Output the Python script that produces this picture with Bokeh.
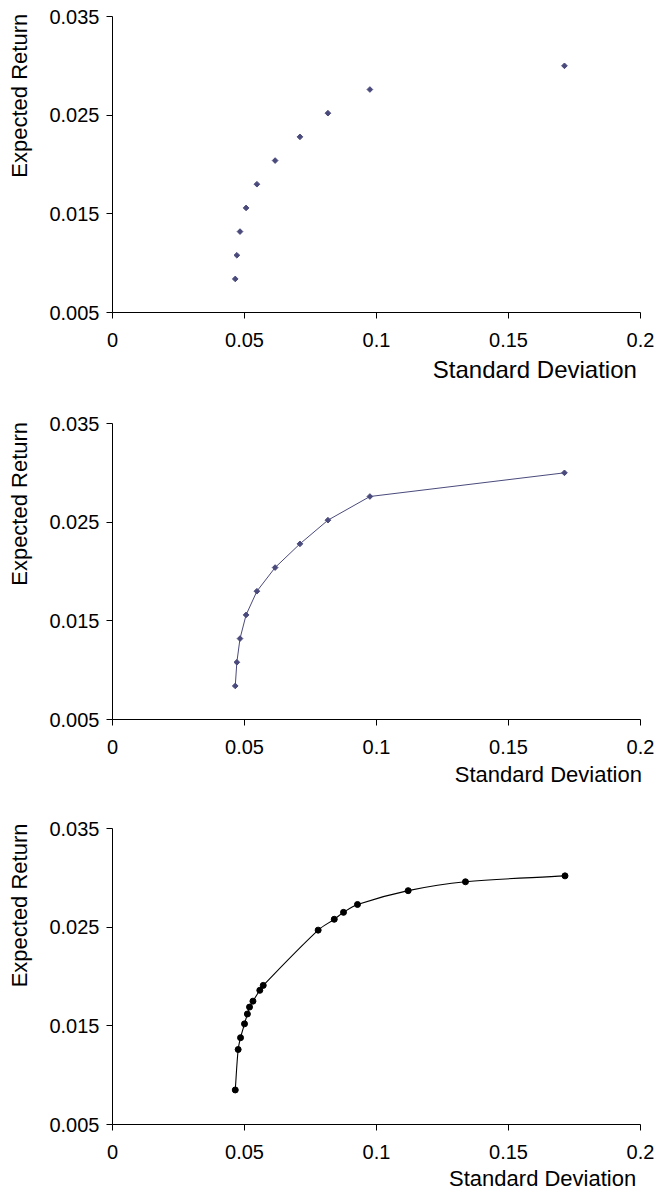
import math
from bokeh.plotting import figure
from bokeh.layouts import column
from bokeh.models import FixedTicker, Title
from bokeh.embed import file_html
from bokeh.resources import INLINE

# Data: efficient-frontier portfolios (standard deviation, expected return)
sd_a = [0.0465, 0.0471, 0.0483, 0.0506, 0.0547, 0.0616, 0.0710, 0.0816, 0.0975, 0.1712]
ret_a = [0.0084, 0.0108, 0.0132, 0.0156, 0.0180, 0.0204, 0.0228, 0.0252, 0.0276, 0.0300]

sd_b = [0.0465, 0.0476, 0.0485, 0.0500, 0.0511, 0.0519, 0.0532, 0.0558, 0.0571,
        0.0779, 0.0840, 0.0875, 0.0928, 0.1120, 0.1337, 0.1714]
ret_b = [0.0085, 0.0126, 0.0138, 0.0152, 0.0162, 0.0169, 0.0175, 0.0186, 0.0191,
         0.0247, 0.0258, 0.0265, 0.0273, 0.0287, 0.0296, 0.0302]

x_ticks = [0, 0.05, 0.1, 0.15, 0.2]
x_tick_labels = ["0", "0.05", "0.1", "0.15", "0.2"]
y_ticks = [0.005, 0.015, 0.025, 0.035]
y_tick_labels = ["0.005", "0.015", "0.025", "0.035"]
x_title = "Standard Deviation"
y_title = "Expected Return"

FONT = "Liberation Sans"
PURPLE = "#4a4a7c"
FW, FH = 528, 296
X_RANGE = (0, 0.2)
Y_RANGE = (0.005, 0.035)


def make_fig(border_top, border_bottom, xlabel_size, xlabel_offset, xlabel_standoff, ylabel_offset):
    p = figure(frame_width=FW, frame_height=FH, output_backend="svg", toolbar_location=None,
               x_range=X_RANGE, y_range=Y_RANGE,
               min_border_left=112, min_border_right=18,
               min_border_top=border_top, min_border_bottom=border_bottom)
    p.grid.visible = False
    p.outline_line_color = None
    p.background_fill_color = "white"
    p.border_fill_color = "white"
    for ax in (p.xaxis[0], p.yaxis[0]):
        ax.axis_line_color = "black"
        ax.axis_line_width = 1
        ax.major_tick_line_color = "black"
        ax.major_tick_out = 6
        ax.major_tick_in = 0
        ax.minor_tick_line_color = None
        ax.major_label_text_font = FONT
        ax.major_label_text_font_size = "20px"
        ax.major_label_text_color = "black"
    p.xaxis[0].ticker = FixedTicker(ticks=x_ticks)
    p.xaxis[0].major_label_overrides = {t: l for t, l in zip(x_ticks, x_tick_labels)}
    p.xaxis[0].major_label_standoff = 14
    p.yaxis[0].ticker = FixedTicker(ticks=y_ticks)
    p.yaxis[0].major_label_overrides = {t: l for t, l in zip(y_ticks, y_tick_labels)}
    p.yaxis[0].major_label_standoff = 7

    p.add_layout(Title(text=x_title, align="right", text_font=FONT,
                       text_font_size=xlabel_size, text_font_style="normal",
                       text_color="black", offset=xlabel_offset, standoff=xlabel_standoff), "below")
    # thin spacer between the y axis labels and the y axis title
    p.add_layout(Title(text=" ", text_font=FONT, text_font_size="1px",
                       text_font_style="normal", standoff=12), "left")
    p.add_layout(Title(text=y_title, align="right", text_font=FONT,
                       text_font_size="22px", text_font_style="normal",
                       text_color="black", offset=ylabel_offset, standoff=0), "left")
    return p


def smooth_segments(xs, ys):
    """Bezier control points for a smoothed line through the data (chord-length
    tangents measured in screen space, like a spreadsheet's 'smoothed line')."""
    kx = FW / (X_RANGE[1] - X_RANGE[0])
    ky = FH / (Y_RANGE[1] - Y_RANGE[0])
    n = len(xs)
    d = [math.hypot((xs[i + 1] - xs[i]) * kx, (ys[i + 1] - ys[i]) * ky) for i in range(n - 1)]
    tx, ty = [], []
    for i in range(n):
        if i == 0:
            a, b, L = 0, 1, d[0]
        elif i == n - 1:
            a, b, L = n - 2, n - 1, d[-1]
        else:
            a, b, L = i - 1, i + 1, d[i - 1] + d[i]
        tx.append((xs[b] - xs[a]) / L)
        ty.append((ys[b] - ys[a]) / L)
    seg = dict(x0=[], y0=[], x1=[], y1=[], cx0=[], cy0=[], cx1=[], cy1=[])
    for i in range(n - 1):
        seg["x0"].append(xs[i]); seg["y0"].append(ys[i])
        seg["x1"].append(xs[i + 1]); seg["y1"].append(ys[i + 1])
        seg["cx0"].append(xs[i] + tx[i] * d[i] / 3); seg["cy0"].append(ys[i] + ty[i] * d[i] / 3)
        seg["cx1"].append(xs[i + 1] - tx[i + 1] * d[i] / 3); seg["cy1"].append(ys[i + 1] - ty[i + 1] * d[i] / 3)
    return seg


p1 = make_fig(16, 80, "24px", 3.6, 8.6, -2.7)
p1.scatter(sd_a, ret_a, marker="square", size=4, angle=math.pi / 4, color=PURPLE)

p2 = make_fig(31, 73, "22px", -1.4, 8.2, -1.6)
p2.line(sd_a, ret_a, line_color=PURPLE, line_width=1)
p2.scatter(sd_a, ret_a, marker="square", size=4, angle=math.pi / 4, color=PURPLE)

p3 = make_fig(36, 71, "22px", 4.3, 5, -5)
p3.bezier(line_color="black", line_width=1.1, **smooth_segments(sd_b, ret_b))
p3.scatter(sd_b, ret_b, marker="circle", size=6, color="black")

layout = column(p1, p2, p3, spacing=0)

open("out.html", "w").write(file_html(layout, INLINE))
